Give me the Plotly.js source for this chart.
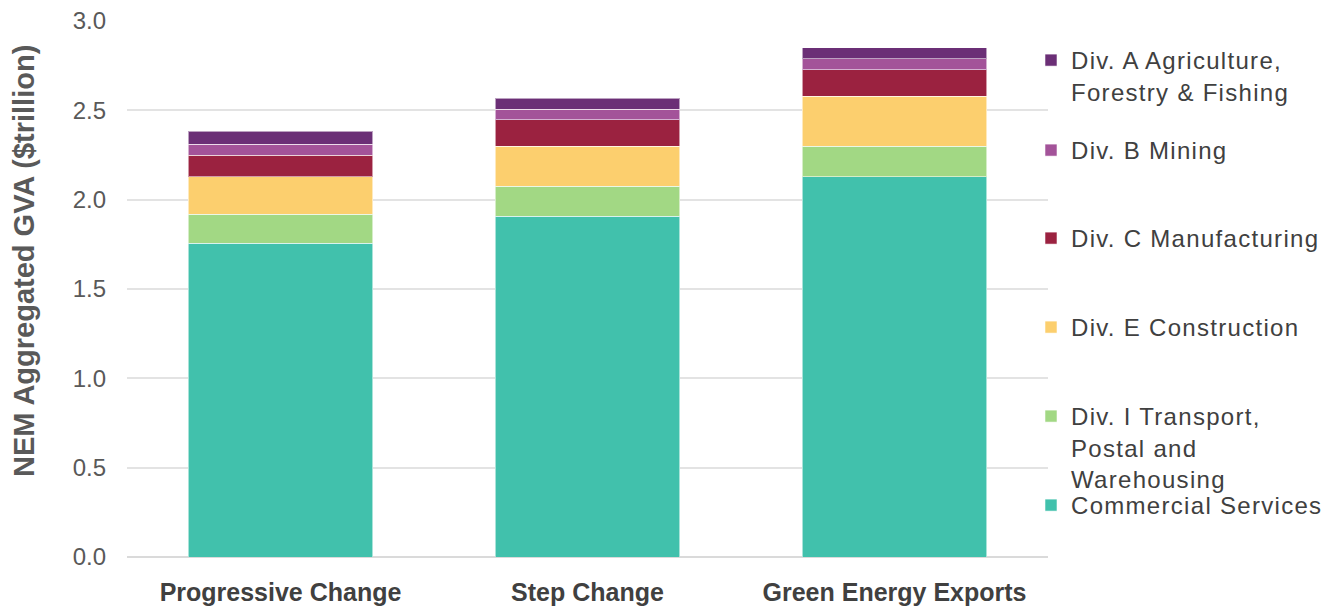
<!DOCTYPE html>
<html>
<head>
<meta charset="utf-8">
<script src="https://cdn.plot.ly/plotly-3.0.1.min.js"></script>
<style>
  html, body { margin: 0; padding: 0; background: #ffffff; }
  #chart { width: 1340px; height: 608px; }
</style>
</head>
<body>
<div id="chart"></div>
<script>
// Scenarios on the category axis
const scenarios = ['Progressive Change', 'Step Change', 'Green Energy Exports'];

// Gross value added by industry division ($ trillion), stacked bottom to top
const commercialServices = [1.757, 1.907, 2.127];
const transportPostal    = [0.162, 0.169, 0.171];
const construction       = [0.208, 0.222, 0.282];
const manufacturing      = [0.123, 0.148, 0.148];
const mining             = [0.060, 0.060, 0.061];
const agriculture        = [0.074, 0.061, 0.062];

// Legend labels (one array entry per text line)
const seriesNames = [
  ['Commercial Services'],
  ['Div. I Transport,', 'Postal and', 'Warehousing'],
  ['Div. E Construction'],
  ['Div. C Manufacturing'],
  ['Div. B Mining'],
  ['Div. A Agriculture,', 'Forestry & Fishing']
];
const seriesValues = [commercialServices, transportPostal, construction, manufacturing, mining, agriculture];
const seriesColors = ['#41C1AC', '#A2D884', '#FCCF6E', '#9B2240', '#A35399', '#6B2F76'];

// Each series gets its own legend box so the entries sit at even spacing
const legendIds = ['legend7', 'legend6', 'legend5', 'legend4', 'legend3', 'legend2'];
const legendRowY = [507, 418, 329, 240, 152, 62];   // centre of the first text line, px from top

const H = 608, W = 1340;
const legendFont = { family: 'Liberation Sans, Arial, sans-serif', size: 24, color: '#404040' };

// open tracking on legend lines
const tracked = lines => lines.map(s => '<span style="letter-spacing:1.3px">' + s + '</span>').join('<br>');

const traces = seriesNames.map((lines, i) => ({
  type: 'bar',
  name: tracked(lines),
  x: scenarios,
  y: seriesValues[i],
  legend: legendIds[i],
  marker: { color: seriesColors[i], line: { color: 'rgba(255,255,255,0.55)', width: 1 } },
  hoverinfo: 'skip'
}));

const layout = {
  width: W,
  height: H,
  margin: { l: 127, r: 292, t: 21, b: 51, pad: 0, autoexpand: false },
  paper_bgcolor: '#ffffff',
  plot_bgcolor: '#ffffff',
  barmode: 'stack',
  bargap: 0.398,
  hovermode: false,
  xaxis: {
    type: 'category',
    showgrid: false,
    showline: false,
    ticks: '',
    ticklabelstandoff: 18,
    tickfont: { family: 'Liberation Sans, Arial, sans-serif', size: 25, color: '#404040', weight: 'bold' }
  },
  yaxis: {
    range: [0, 3],
    dtick: 0.5,
    tick0: 0,
    tickformat: '.1f',
    showgrid: true,
    gridcolor: '#e3e3e3',
    gridwidth: 2,
    zeroline: true,
    zerolinecolor: '#dadada',
    zerolinewidth: 2,
    showline: false,
    ticks: '',
    ticklabelstandoff: 20,
    tickfont: { family: 'Liberation Sans, Arial, sans-serif', size: 24, color: '#595959' }
  },
  annotations: [{
    text: '<b>NEM Aggregated GVA ($trillion)</b>',
    xref: 'paper', yref: 'paper',
    x: (24 - 127) / (W - 127 - 292),
    y: (H - 51 - 261) / (H - 21 - 51),
    xanchor: 'center', yanchor: 'middle',
    textangle: -90,
    showarrow: false,
    font: { family: 'Liberation Sans, Arial, sans-serif', size: 29, color: '#595959' }
  }]
};

// Place the legend boxes one per series
legendIds.forEach((id, i) => {
  layout[id] = {
    xref: 'container', yref: 'container',
    x: 1031 / W,
    y: 1 - (legendRowY[i] - 24) / H,
    xanchor: 'left', yanchor: 'top',
    valign: 'top',
    bgcolor: 'rgba(0,0,0,0)',
    borderwidth: 0,
    font: legendFont
  };
});

Plotly.newPlot('chart', traces, layout, { displayModeBar: false, staticPlot: true });
</script>
</body>
</html>
